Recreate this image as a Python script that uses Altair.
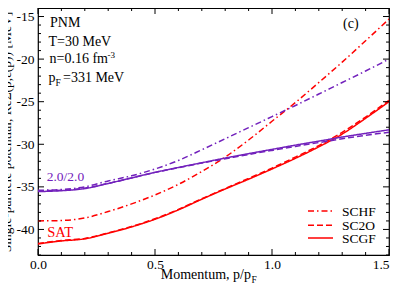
import altair as alt
import pandas as pd

momentum = [0.0, 0.1, 0.2, 0.3, 0.4, 0.5, 0.6, 0.7, 0.8, 0.9, 1.0, 1.1, 1.2, 1.3, 1.4, 1.5]

schf_sat = [-39.0, -38.95, -38.65, -37.9, -37.0, -35.95, -34.7, -33.2, -31.5, -29.5, -27.3, -25.1, -22.75, -20.35, -17.85, -15.3]
sc2o_sat = [-41.65, -41.3, -41.05, -40.4, -39.65, -38.75, -37.65, -36.4, -35.2, -34.0, -32.8, -31.5, -30.15, -28.6, -26.8, -24.85]
scgf_sat = [-41.7, -41.35, -41.1, -40.45, -39.7, -38.8, -37.7, -36.45, -35.25, -34.1, -32.9, -31.65, -30.3, -28.8, -26.95, -25.0]
schf_22 = [-35.4, -35.3, -35.0, -34.3, -33.7, -32.9, -31.9, -30.65, -29.35, -28.05, -26.75, -25.45, -24.1, -22.75, -21.4, -20.0]
sc2o_22 = [-35.45, -35.4, -35.15, -34.6, -33.95, -33.3, -32.75, -32.2, -31.7, -31.2, -30.72, -30.25, -29.8, -29.35, -28.95, -28.6]
scgf_22 = [-35.55, -35.45, -35.2, -34.6, -33.95, -33.3, -32.72, -32.17, -31.62, -31.1, -30.6, -30.1, -29.63, -29.15, -28.72, -28.3]

series_names = ["SCHF SAT", "SC2O SAT", "SCGF SAT", "SCHF 2.0/2.0", "SC2O 2.0/2.0", "SCGF 2.0/2.0"]
series_values = [schf_sat, sc2o_sat, scgf_sat, schf_22, sc2o_22, scgf_22]

legend_labels = ["SCHF", "SC2O", "SCGF"]

x_major = [0, 0.5, 1.0, 1.5]
x_minor = [0.1, 0.2, 0.3, 0.4, 0.6, 0.7, 0.8, 0.9, 1.1, 1.2, 1.3, 1.4]
y_major = [-40, -35, -30, -25, -20, -15]
y_minor = [-43, -42, -41, -39, -38, -37, -36, -34, -33, -32, -31, -29, -28, -27, -26,
           -24, -23, -22, -21, -19, -18, -17, -16, -14]

RED = "#FF0000"
PURPLE = "#7221BC"
DASHDOT = [6, 3, 1.5, 3]
DASHED = [6, 3]
SOLID = [1, 0]
FONT = "Liberation Serif, Times New Roman, Times, serif"

rows = []
for name, vals in zip(series_names, series_values):
    for p, u in zip(momentum, vals):
        rows.append({"p": p, "U": u, "series": name})
df = pd.DataFrame(rows)

W, H = 351, 247
xs = alt.Scale(domain=[0, 1.5], nice=False, zero=False)
ys = alt.Scale(domain=[-43, -14], nice=False, zero=False)

x_axis = alt.Axis(values=x_major, title=None, ticks=False, domain=False, grid=False,
                  labelFont=FONT, labelFontSize=13.5, labelColor="black", labelPadding=2,
                  labelFlush=False,
                  labelAlign=alt.condition("datum.value == 1.5", alt.value("right"), alt.value("center")))
y_axis = alt.Axis(values=y_major, title="Single-particle potential, ReΣ(p,ε(p)) [MeV]",
                  ticks=False, domain=False, grid=False,
                  labelFont=FONT, labelFontSize=13.5, labelColor="black", labelPadding=4,
                  labelExpr="datum.value < 0 ? '-' + abs(datum.value) : '' + datum.value",
                  titleFont=FONT, titleFontSize=13.5, titleFontWeight="normal",
                  titleColor="black", titlePadding=3)

x_enc = alt.X("p:Q", scale=xs, axis=x_axis)
y_enc = alt.Y("U:Q", scale=ys, axis=y_axis)

lines = alt.Chart(df).mark_line(strokeWidth=1.5, interpolate="monotone", clip=True).encode(
    x=x_enc,
    y=y_enc,
    color=alt.Color("series:N", scale=alt.Scale(domain=series_names,
                    range=[RED, RED, RED, PURPLE, PURPLE, PURPLE]), legend=None),
    strokeDash=alt.StrokeDash("series:N", scale=alt.Scale(domain=series_names,
                    range=[DASHDOT, DASHED, SOLID, DASHDOT, DASHED, SOLID]), legend=None),
)

layers = [lines]

def xticks(vals, length):
    d = pd.DataFrame({"p": vals})
    bot = alt.Chart(d).mark_rule(color="black", strokeWidth=1).encode(
        x=x_enc, y=alt.value(H), y2=alt.value(H - length))
    top = alt.Chart(d).mark_rule(color="black", strokeWidth=1).encode(
        x=x_enc, y=alt.value(0), y2=alt.value(length))
    return [bot, top]

def yticks(vals, length):
    d = pd.DataFrame({"U": vals})
    left = alt.Chart(d).mark_rule(color="black", strokeWidth=1).encode(
        y=y_enc, x=alt.value(0), x2=alt.value(length))
    right = alt.Chart(d).mark_rule(color="black", strokeWidth=1).encode(
        y=y_enc, x=alt.value(W), x2=alt.value(W - length))
    return [left, right]

layers += xticks(x_major, 6) + xticks(x_minor, 3) + yticks(y_major, 6) + yticks(y_minor, 3)

def label(text, x, y, size=14, color="black", align="left"):
    return alt.Chart(pd.DataFrame({"t": [text]})).mark_text(
        font=FONT, fontSize=size, color=color, align=align, baseline="alphabetic"
    ).encode(x=alt.value(x), y=alt.value(y), text="t:N")

# info block
layers += [
    label("PNM", 12, 19.3, 14),
    label("T=30 MeV", 10.5, 37.7, 14),
    label("n=0.16 fm", 11.5, 55.3, 14),
    label("-3", 69.5, 49.5, 9),
    label("p", 10.5, 73.7, 14),
    label("F", 17.5, 77.5, 9.5),
    label("=331 MeV", 25, 73.7, 14),
    label("(c)", 305, 20, 14),
    label("2.0/2.0", 8.7, 172.5, 13.5, PURPLE),
    label("SAT", 9.3, 229, 14.5, RED),
]

# x title with subscript
layers += [
    label("Momentum, p/p", 213, 271, 14, align="right"),
    label("F", 213.5, 275, 9.5),
]

# legend
leg_y = [203, 217.3, 230]
leg_dash = [DASHDOT, DASHED, SOLID]
for lab, ly, dsh in zip(legend_labels, leg_y, leg_dash):
    layers.append(alt.Chart(pd.DataFrame({"t": [lab]})).mark_rule(
        color=RED, strokeWidth=1.5, strokeDash=dsh).encode(
        x=alt.value(270), x2=alt.value(295), y=alt.value(ly)))
    layers.append(label(lab, 304, ly + 5, 13.5))

chart = alt.layer(*layers).properties(
    width=W, height=H,
    autosize=alt.AutoSizeParams(type="none"),
    padding={"left": 30, "top": 0, "right": 2, "bottom": 29},
).configure_view(stroke="black", strokeWidth=1.2)

chart.save("out.html", embed_options={"renderer": "svg", "actions": False})
